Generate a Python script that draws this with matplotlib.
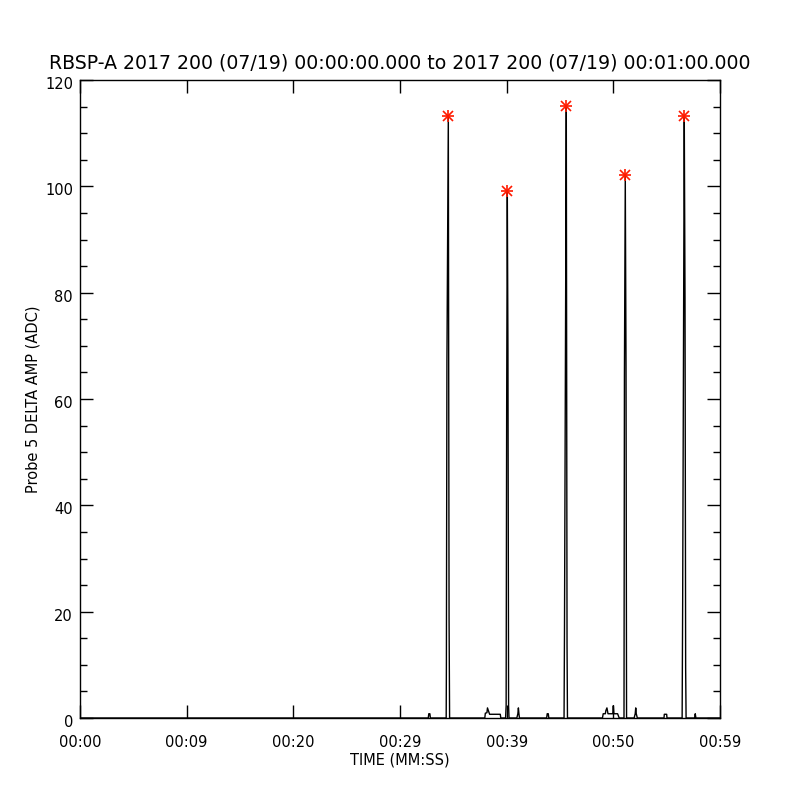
import matplotlib
matplotlib.use("Agg")
import matplotlib.pyplot as plt
from matplotlib.ticker import MultipleLocator
import matplotlib.transforms as mtransforms

title = "RBSP-A 2017 200 (07/19) 00:00:00.000 to 2017 200 (07/19) 00:01:00.000"
xlabel = "TIME (MM:SS)"
ylabel = "Probe 5 DELTA AMP (ADC)"

tick_positions = [0, 10, 20, 30, 40, 50, 60]
tick_labels = ["00:00", "00:09", "00:20", "00:29", "00:39", "00:50", "00:59"]

time_s = [0.0,
          32.65, 32.7, 32.8, 32.85,
          34.33, 34.35, 34.4, 34.53, 34.6, 34.65,
          37.95, 38.0, 38.15, 38.2, 38.4, 39.4, 39.45,
          39.9, 39.95, 40.0, 40.06, 40.12, 40.18, 40.22,
          40.95, 41.05, 41.1, 41.15, 41.2,
          43.75, 43.8, 43.9, 43.95,
          45.38, 45.42, 45.52, 45.59, 45.66, 45.7,
          48.98, 49.05, 49.25, 49.3, 49.4, 49.5, 49.95, 50.0, 50.05, 50.4, 50.55,
          51.0, 51.04, 51.12, 51.19, 51.24,
          51.95, 52.05, 52.1, 52.15, 52.25,
          54.75, 54.78, 55.0, 55.03,
          56.45, 56.5, 56.65, 56.72, 56.78, 56.82,
          57.62, 57.68, 57.74,
          60.0]
amp_adc = [0.0,
           0, 0.8, 0.8, 0,
           0, 10.5, 67.3, 113.3, 18.8, 0,
           0, 0.9, 1.0, 1.9, 0.7, 0.7, 0,
           0, 2.3, 58.3, 99.1, 69.4, 2.3, 0,
           0, 0.8, 1.9, 0.8, 0,
           0, 0.8, 0.8, 0,
           0, 16.2, 73.9, 115.1, 13.7, 0,
           0, 0.8, 0.8, 1.4, 1.9, 0.8, 0.8, 2.3, 0.8, 0.8, 0,
           0, 64.3, 102.1, 66.1, 0,
           0, 0.8, 1.9, 0.8, 0,
           0, 0.7, 0.7, 0,
           0, 22.0, 113.3, 79.0, 9.4, 0,
           0, 0.8, 0,
           0.0]

peak_times = [34.53, 40.06, 45.59, 51.12, 56.65]
peak_values = [113.3, 99.1, 115.1, 102.1, 113.3]

fig = plt.figure(figsize=(8, 8), dpi=100)
ax = fig.add_axes([0.1, 0.1025, 0.8, 0.7975])
ax.plot(time_s, amp_adc, color="black", lw=1.0)
ax.plot(peak_times, peak_values, ls="none", marker="+", ms=9, mew=1.2, color="#ff1a00")
ax.plot(peak_times, peak_values, ls="none", marker="x", ms=7, mew=1.2, color="#ff1a00")

ax.set_xlim(0, 60)
ax.set_ylim(0, 120)
ax.set_xticks(tick_positions)
ax.set_xticklabels(tick_labels)
ax.yaxis.set_major_locator(MultipleLocator(20))
ax.yaxis.set_minor_locator(MultipleLocator(5))
ax.tick_params(axis="both", which="both", direction="in", top=True, right=True, labelsize=10.5, width=1)
ax.tick_params(axis="both", which="major", length=9.5)
ax.tick_params(axis="y", which="minor", length=4.7)
ax.tick_params(axis="x", which="major", pad=12)
ax.tick_params(axis="y", which="major", pad=5)
for s in ax.spines.values():
    s.set_linewidth(1)

offset = mtransforms.ScaledTranslation(0, -3 / 100, fig.dpi_scale_trans)
for lab in ax.get_yticklabels():
    lab.set_transform(lab.get_transform() + offset)

ax.set_title(title, fontsize=13.6, pad=8)
ax.set_xlabel(xlabel, fontsize=10.5, labelpad=2)
ax.set_ylabel(ylabel, fontsize=10.5, labelpad=3)

fig.savefig("out.png", dpi=100)
